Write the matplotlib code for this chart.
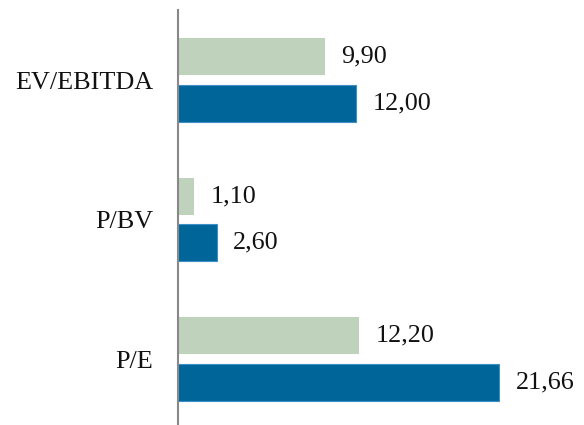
import matplotlib.pyplot as plt
import numpy as np

categories = ["P/E", "P/BV", "EV/EBITDA"]
series_light = [12.20, 1.10, 9.90]
series_dark = [21.66, 2.60, 12.00]

plt.rcParams['font.family'] = ['Liberation Serif', 'DejaVu Serif']

fig = plt.figure(figsize=(5.84, 4.25), dpi=100)
ax = fig.add_axes([0.3048, 0.0, 0.6862, 0.9765])

y = np.arange(len(categories))
h = 0.265
off = 0.168

ax.barh(y + off, series_light, height=h, color='#bed2bc')
ax.barh(y - off, series_dark, height=h, color='#006699', edgecolor='#3d8fc5', linewidth=0.8)

def fmt(v):
    return '{:.2f}'.format(v).replace('.', ',')

for yi, v in zip(y + off, series_light):
    ax.annotate(fmt(v), (v, yi), xytext=(12, 0), textcoords='offset points',
                va='center', ha='left', fontsize=18.8, color='#111111')
for yi, v in zip(y - off, series_dark):
    ax.annotate(fmt(v), (v, yi), xytext=(12, 0), textcoords='offset points',
                va='center', ha='left', fontsize=18.8, color='#111111')

ax.set_xlim(0, 27)
ax.set_ylim(-0.473, 2.502)
ax.set_yticks(y)
ax.set_yticklabels(categories, fontsize=18.8, color='#111111')
ax.tick_params(axis='y', length=0, pad=18)
ax.set_xticks([])

for s in ['top', 'right', 'bottom']:
    ax.spines[s].set_visible(False)
ax.spines['left'].set_color('#888888')
ax.spines['left'].set_linewidth(1.5)

fig.savefig('out.png', dpi=100)
